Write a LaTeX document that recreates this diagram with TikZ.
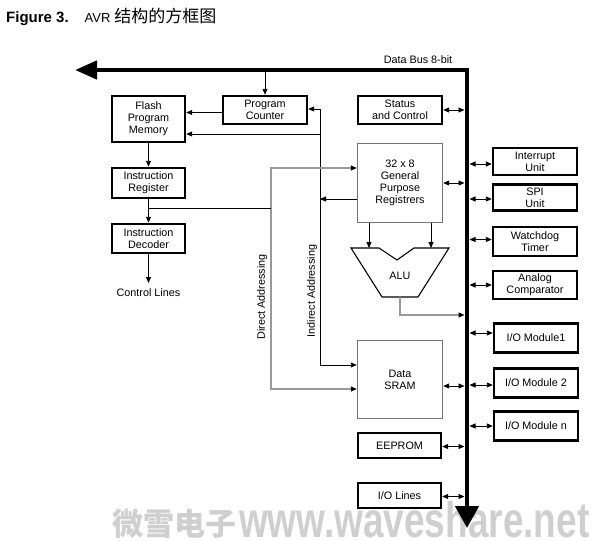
\documentclass[tikz,border=0pt]{standalone}
\usepackage{fontspec}
\setmainfont{Liberation Sans}
\newfontfamily\cjk{Noto Sans CJK SC}
\usetikzlibrary{arrows.meta}
\begin{document}
\begin{tikzpicture}[x=1pt,y=-1pt,
  every node/.style={font=\fontsize{10.8}{12}\selectfont, inner sep=0pt},
  blk/.style={draw, line width=2.4pt, align=center},
  gbx/.style={draw=black!55, line width=1.4pt, align=center},
  arr/.style={line width=0.9pt, -{Triangle[length=6pt,width=5pt]}},
  dbl/.style={line width=0.9pt, {Triangle[length=6pt,width=5pt]}-{Triangle[length=6pt,width=5pt]}},
  garr/.style={draw=black!40, line width=1.3pt, -{Triangle[length=6pt,width=5pt,black]}},
  gdbl/.style={draw=black!40, line width=1.3pt, {Triangle[length=6pt,width=5pt,black]}-{Triangle[length=6pt,width=5pt,black]}},
  wm/.style={text=black!19, anchor=base west}
]
\useasboundingbox (0,0) rectangle (595,541);

% watermark
\node[wm, font=\cjk\bfseries\fontsize{31}{31}\selectfont] (wm1) at (112,535) {微雪电子};
\node[wm, font=\bfseries\fontsize{50}{50}\selectfont, xscale=0.74] (wm2) at (239,537) {www.waveshare.net};

% title
\node[anchor=base west] (title) at (6,22)
  {{\fontsize{15}{17}\selectfont\bfseries Figure 3.}\hspace{16pt}{\fontsize{13}{15}\selectfont AVR}\hspace{4pt}{\cjk\fontsize{17}{17}\selectfont 结构的方框图}};

% data bus
\coordinate (busL) at (75,70);
\coordinate (busC) at (467,70);
\coordinate (busB) at (467,528);
\draw[line width=4.5pt, line join=miter,
  {Triangle[length=22pt,width=18pt]}-{Triangle[length=22pt,width=23pt]}]
  (busL) -- (busC) -- (busB);
\node (dbus) at (418,60) {Data Bus 8-bit};

% left column
\node[blk, minimum width=73pt, minimum height=46pt] (fpm) at (148.5,119) {Flash\\Program\\Memory};
\node[blk, minimum width=73pt, minimum height=30pt] (ir) at (148.5,183) {Instruction\\Register};
\node[blk, minimum width=73pt, minimum height=29pt] (id) at (148.5,238.5) {Instruction\\Decoder};
\node[anchor=north] (ctl) at (148.5,288) {Control Lines};
\node[blk, minimum width=84pt, minimum height=28pt] (pc) at (265,110) {Program\\Counter};

% middle column
\node[blk, minimum width=84pt, minimum height=28pt] (sc) at (400,110) {Status\\and Control};
\node[gbx, minimum width=85pt, minimum height=79pt] (gpr) at (400,183) {32 x 8\\General\\Purpose\\Registrers};
\node[gbx, minimum width=85pt, minimum height=78pt] (sram) at (400,379.5) {Data\\SRAM};
\node[blk, minimum width=83pt, minimum height=25pt] (eep) at (399.5,445.5) {EEPROM};
\node[blk, minimum width=83pt, minimum height=25pt] (iol) at (399.5,495.5) {I/O Lines};

% ALU
\draw[line width=1.1pt] (351,248) -- (379,248) -- (397,260) -- (414,248) -- (449,248)
  -- (418,297) -- (382,297) -- cycle;
\node (alu) at (400,276) {ALU};
\coordinate (a1) at (369,248);
\coordinate (a2) at (431,248);
\draw[arr] (a1 |- gpr.south) -- (a1);
\draw[arr] (a2 |- gpr.south) -- (a2);
\coordinate (aluout) at (400,297);
\coordinate (l6) at (464.5,315);
\draw[garr] (aluout) |- (l6);

% right column
\node[blk, minimum width=84pt, minimum height=27pt] (intr) at (535,161.5) {Interrupt\\Unit};
\node[blk, minimum width=84pt, minimum height=26pt] (spi) at (535,197.5) {SPI\\Unit};
\node[blk, minimum width=84pt, minimum height=29pt] (wdt) at (535,241.5) {Watchdog\\Timer};
\node[blk, minimum width=84pt, minimum height=28pt] (ac) at (535,285) {Analog\\Comparator};
\node[blk, minimum width=84pt, minimum height=29pt] (io1) at (536,338) {I/O Module1};
\node[blk, minimum width=84pt, minimum height=29pt] (io2) at (536,383) {I/O Module 2};
\node[blk, minimum width=84pt, minimum height=29pt] (ion) at (536,426) {I/O Module n};

% left arrows / flows
\draw[arr] (pc.north |- busL) -- (pc.north);
\draw[arr] ([yshift=-2.5pt]pc.west) -- ([yshift=-2.5pt]pc.west -| fpm.east);
\draw[arr] (fpm.south) -- (ir.north);
\draw[arr] (ir.south) -- (id.north);
\draw[arr] (id.south) -- ([yshift=5pt]ctl.north);

% indirect addressing
\coordinate (iT) at (320,109);
\coordinate (iF) at (320,134);
\coordinate (iG) at (320,199);
\coordinate (iB) at (320,365);
\draw[arr] (iT) -- (iT -| pc.east);
\draw[arr] (iF) -- (iF -| fpm.east);
\draw[arr] (iT) -- (iB) -- (iB -| sram.west);
\draw[arr] (iG -| gpr.west) -- (iG);
\node[rotate=90] (iadr) at (312,291) {Indirect Addressing};

% direct addressing
\coordinate (dT) at (271,168);
\coordinate (dB) at (271,389);
\draw[gdbl] (dT -| gpr.west) -- (dT) -- (dB) -- (dB -| sram.west);
\coordinate (irb) at (148.5,208);
\draw[line width=0.9pt] (irb) -- (irb -| dT);
\node[rotate=90] (dadr) at (262,297) {Direct Addressing};

% bus connections, left side
\coordinate (l1) at (464.5,110);
\coordinate (l2) at (464.5,183);
\coordinate (l3) at (464.5,386);
\coordinate (l4) at (464.5,446.5);
\coordinate (l5) at (464.5,496.5);
\draw[dbl] (l1 -| sc.east) -- (l1);
\draw[dbl] (l2 -| gpr.east) -- (l2);
\draw[dbl] (l3 -| sram.east) -- (l3);
\draw[dbl] (l4 -| eep.east) -- (l4);
\draw[dbl] (l5 -| iol.east) -- (l5);

% bus connections, right side
\coordinate (r1) at (469.5,164);
\coordinate (r2) at (469.5,199);
\coordinate (r3) at (469.5,239.5);
\coordinate (r4) at (469.5,285);
\coordinate (r5) at (469.5,333);
\coordinate (r6) at (469.5,385);
\coordinate (r7) at (469.5,426);
\draw[dbl] (r1) -- (r1 -| intr.west);
\draw[dbl] (r2) -- (r2 -| spi.west);
\draw[dbl] (r3) -- (r3 -| wdt.west);
\draw[dbl] (r4) -- (r4 -| ac.west);
\draw[dbl] (r5) -- (r5 -| io1.west);
\draw[dbl] (r6) -- (r6 -| io2.west);
\draw[dbl] (r7) -- (r7 -| ion.west);
\end{tikzpicture}
\end{document}
